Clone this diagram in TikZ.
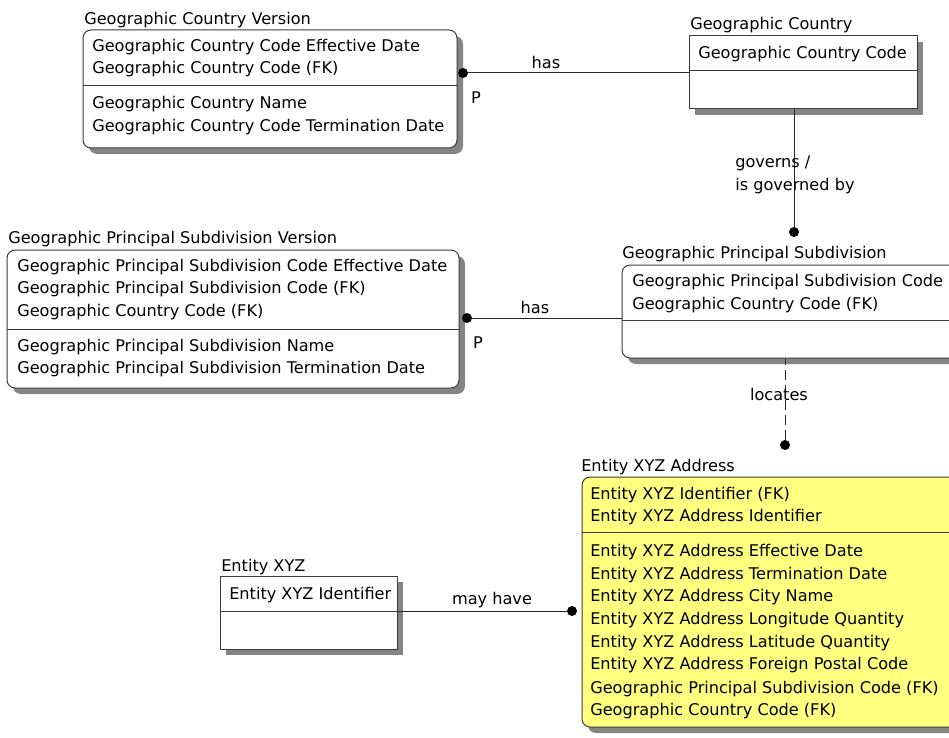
\documentclass[tikz,border=0pt]{standalone}
\usepackage{fontspec}
\setmainfont{DejaVu Sans}
\usetikzlibrary{fit,shadows}
\definecolor{entyellow}{RGB}{255,255,128}
\definecolor{edge}{RGB}{60,60,60}
\tikzset{
  ent/.style={draw=edge, line width=0.75pt, fill=white, inner sep=0pt,
    general shadow={fill=black!48, shadow xshift=4.5pt, shadow yshift=-4.5pt}},
  soft/.style={rounded corners=6pt},
  divider/.style={draw=edge, line width=0.75pt},
  txt/.style={anchor=mid west, inner sep=0pt, yshift=-2.2pt, font=\fontsize{12.1}{14}\selectfont},
  lbl/.style={anchor=mid, inner sep=0pt, yshift=-2.2pt, font=\fontsize{12.1}{14}\selectfont},
  dotn/.style={circle, fill=black, inner sep=0pt, minimum size=7.5pt},
  rel/.style={draw=black!85, line width=0.75pt},
  nonid/.style={rel, dash pattern=on 7.5pt off 3.75pt}
}
\begin{document}
\begin{tikzpicture}[x=0.75pt,y=-0.75pt]
\useasboundingbox (0,0) rectangle (949,738);
\clip (0,0) rectangle (949,738);

% ---------- Geographic Country Version ----------
\node[ent, soft, fit={(83,30) (457,148)}] (gcv) {};
\draw[divider] (gcv.west |- 0,86) -- (gcv.east |- 0,86);
\node[txt] (gcvt) at (84,18) {Geographic Country Version};
\node[txt] (gcv1) at (92,45) {Geographic Country Code Effective Date};
\node[txt] (gcv2) at (92,67) {Geographic Country Code (FK)};
\node[txt] (gcv3) at (92,102) {Geographic Country Name};
\node[txt] (gcv4) at (92,125) {Geographic Country Code Termination Date};

% ---------- Geographic Country ----------
\node[ent, fit={(689,36) (917,109)}] (gc) {};
\draw[divider] (gc.west |- 0,71) -- (gc.east |- 0,71);
\node[txt] (gct) at (690,23) {Geographic Country};
\node[txt] (gc1) at (698,52) {Geographic Country Code};

% ---------- Geographic Principal Subdivision Version ----------
\node[ent, soft, fit={(7,250) (459,388)}] (gpsv) {};
\draw[divider] (gpsv.west |- 0,329) -- (gpsv.east |- 0,329);
\node[txt] (gpsvt) at (8,237) {Geographic Principal Subdivision Version};
\node[txt] (gpsv1) at (17,265) {Geographic Principal Subdivision Code Effective Date};
\node[txt] (gpsv2) at (17,287) {Geographic Principal Subdivision Code (FK)};
\node[txt] (gpsv3) at (17,310) {Geographic Country Code (FK)};
\node[txt] (gpsv4) at (17,345) {Geographic Principal Subdivision Name};
\node[txt] (gpsv5) at (17,367) {Geographic Principal Subdivision Termination Date};

% ---------- Geographic Principal Subdivision ----------
\node[ent, soft, fit={(622,265) (958,358)}] (gps) {};
\draw[divider] (gps.west |- 0,320) -- (gps.east |- 0,320);
\node[txt] (gpst) at (622,252) {Geographic Principal Subdivision};
\node[txt] (gps1) at (632,280) {Geographic Principal Subdivision Code};
\node[txt] (gps2) at (632,303) {Geographic Country Code (FK)};

% ---------- Entity XYZ ----------
\node[ent, fit={(220,576) (397,649)}] (ex) {};
\draw[divider] (ex.west |- 0,611) -- (ex.east |- 0,611);
\node[txt] (ext) at (221,565) {Entity XYZ};
\node[txt] (ex1) at (229,593) {Entity XYZ Identifier};

% ---------- Entity XYZ Address ----------
\node[ent, soft, fill=entyellow, fit={(582,477) (958,727)}] (exa) {};
\draw[divider] (exa.west |- 0,532) -- (exa.east |- 0,532);
\node[txt] (exat) at (581,465) {Entity XYZ Address};
\node[txt] (exa1) at (590,493) {Entity XYZ Identifier (FK)};
\node[txt] (exa2) at (590,515) {Entity XYZ Address Identifier};
\node[txt] (exa3) at (590,550) {Entity XYZ Address Effective Date};
\node[txt] (exa4) at (590,573) {Entity XYZ Address Termination Date};
\node[txt] (exa5) at (590,595) {Entity XYZ Address City Name};
\node[txt] (exa6) at (590,618) {Entity XYZ Address Longitude Quantity};
\node[txt] (exa7) at (590,641) {Entity XYZ Address Latitude Quantity};
\node[txt] (exa8) at (590,663) {Entity XYZ Address Foreign Postal Code};
\node[txt] (exa9) at (590,687) {Geographic Principal Subdivision Code (FK)};
\node[txt] (exa10) at (590,709) {Geographic Country Code (FK)};

% ---------- relationships ----------
% Geographic Country has Geographic Country Version
\node[dotn] (d1) at (463,73) {};
\draw[rel] (d1) -- (d1 -| gc.west);
\node[lbl] (l1) at (546,62) {has};
\node[lbl] (p1) at (476,97) {P};

% Geographic Country governs Geographic Principal Subdivision
\node[dotn] (d2) at (794,232) {};
\draw[rel] (d2) -- (d2 |- gc.south);
\node[txt] (l2a) at (735,161) {governs /};
\node[txt] (l2b) at (735,184) {is governed by};

% Geographic Principal Subdivision has its versions
\node[dotn] (d3) at (467,318) {};
\draw[rel] (d3) -- (d3 -| gps.west);
\node[lbl] (l3) at (535,307) {has};
\node[lbl] (p3) at (478,342) {P};

% Geographic Principal Subdivision locates Entity XYZ Address
\node[dotn] (d4) at (785,445) {};
\draw[nonid] (d4) -- (d4 |- gps.south);
\node[lbl] (l4) at (779,394) {locates};

% Entity XYZ may have Entity XYZ Address
\node[dotn] (d5) at (572,611) {};
\draw[rel] (ex.east |- d5) -- (d5);
\node[lbl] (l5) at (492,598) {may have};
\end{tikzpicture}
\end{document}
